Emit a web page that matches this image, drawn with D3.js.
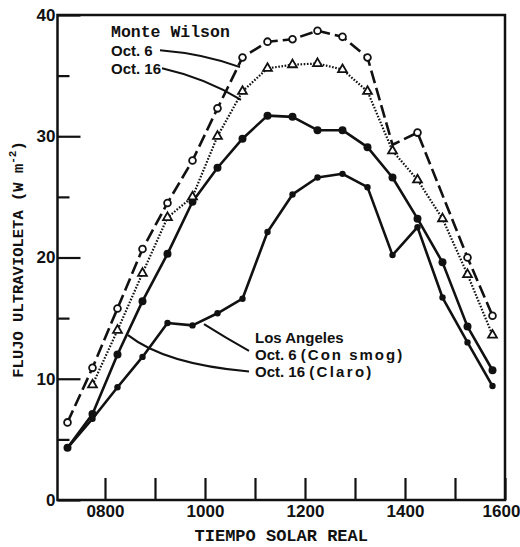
<!DOCTYPE html>
<html><head><meta charset="utf-8">
<script src="https://cdn.jsdelivr.net/npm/d3@7"></script>
<style>body{margin:0;background:#fff}</style>
</head><body><svg id="c" width="520" height="547"></svg>
<script>
// ---- data ----
const times = [7.25,7.75,8.25,8.75,9.25,9.75,10.25,10.75,11.25,11.75,12.25,12.75,13.25,13.75,14.25,14.75,15.25,15.75];
const mwOct6  = [6.4,10.9,15.8,20.7,24.5,28.0,32.3,36.5,37.8,38.0,38.7,38.2,36.5,29.3,30.3,null,20.0,15.2];
const mwOct6Unmarked = [13.75];
const mwOct16 = [null,9.5,14.0,18.7,23.3,25.0,30.0,33.7,35.6,35.9,36.0,35.5,33.7,28.8,26.4,23.2,18.6,13.6];
const laOct16 = [4.3,7.1,12.0,16.4,20.3,24.6,27.4,29.8,31.7,31.6,30.5,30.5,29.1,26.6,23.2,19.6,14.3,10.7];
const laOct6  = [4.3,6.7,9.3,11.8,14.6,14.4,15.4,16.6,22.1,25.2,26.6,26.9,25.8,20.2,22.5,16.7,13.0,9.4];
const xTickValues = [8,9,10,11,12,13,14,15,16];
const xTickLabels = ["0800","","1000","","1200","","1400","","1600"];
const yMajorTicks = [0,10,20,30,40];
const yMinorTicks = [5,15,25,35];
const xTitle = "TIEMPO SOLAR REAL";
const yTitle = "FLUJO ULTRAVIOLETA (W m";

const svg = d3.select("#c");
const x = d3.scaleLinear().domain([7.05,16]).range([57.5,505]);
const y = d3.scaleLinear().domain([0,40]).range([500,15]);
const ink = "#111";
const sans = "'Liberation Sans', Arial, sans-serif";
const mono = "'Liberation Mono', 'Courier New', monospace";

// frame
svg.append("rect").attr("x",x.range()[0]).attr("y",y(40)).attr("width",x.range()[1]-x.range()[0]).attr("height",y(0)-y(40))
  .attr("fill","none").attr("stroke",ink).attr("stroke-width",2.5);

// x axis
const gx = svg.append("g").attr("transform",`translate(0,${y(0)})`)
  .call(d3.axisBottom(x).tickValues(xTickValues).tickSize(-22).tickPadding(5)
    .tickFormat((d,i)=>xTickLabels[i]));
gx.select(".domain").remove();
gx.selectAll("line").attr("stroke",ink).attr("stroke-width",2.2);
gx.selectAll("text").attr("font-family",sans).attr("font-weight","bold").attr("font-size",17).attr("fill",ink)
  .attr("dx",d=>d===16?-4:0);

// y axis majors
const gy = svg.append("g").attr("transform",`translate(${x.range()[0]},0)`)
  .call(d3.axisLeft(y).tickValues(yMajorTicks).tickSize(-23).tickPadding(2).tickFormat(d3.format("d")));
gy.select(".domain").remove();
gy.selectAll("line").attr("stroke",ink).attr("stroke-width",2.2);
gy.selectAll("text").attr("font-family",sans).attr("font-weight","bold").attr("font-size",17).attr("fill",ink);
const gy2 = svg.append("g").attr("transform",`translate(${x.range()[0]},0)`)
  .call(d3.axisLeft(y).tickValues(yMinorTicks).tickSize(-12).tickFormat(""));
gy2.select(".domain").remove();
gy2.selectAll("line").attr("stroke",ink).attr("stroke-width",2.2);

// titles
svg.append("text").attr("x",(x.range()[0]+x.range()[1])/2).attr("y",541).attr("text-anchor","middle")
  .attr("font-family",mono).attr("font-weight","bold").attr("font-size",17).attr("fill",ink).text(xTitle);
const yt = svg.append("text").attr("transform",`translate(23,${(y(0)+y(40))/2+2}) rotate(-90)`).attr("text-anchor","middle")
  .attr("font-family",mono).attr("font-weight","bold").attr("font-size",15.5).attr("fill",ink);
yt.append("tspan").text(yTitle);
yt.append("tspan").attr("font-size",11).attr("dy",-7).text("-2");
yt.append("tspan").attr("dy",7).text(")");

// series
function pts(vals){ return times.map((t,i)=>[t,vals[i]]).filter(d=>d[1]!=null); }
const line = d3.line().x(d=>x(d[0])).y(d=>y(d[1]));
const series = [
  {vals:laOct6, dash:null, w:2.6, mark:"fill", r:3.2},
  {vals:laOct16, dash:null, w:2.6, mark:"fill", r:4},
  {vals:mwOct16, dash:"1.6,1.6", w:2.2, mark:"tri"},
  {vals:mwOct6, dash:"13,5", w:2.6, mark:"open", skip:mwOct6Unmarked}
];
series.forEach(s=>{
  const p = pts(s.vals);
  svg.append("path").attr("d",line(p)).attr("fill","none").attr("stroke",ink)
    .attr("stroke-width",s.w).attr("stroke-dasharray",s.dash).attr("stroke-linejoin","round");
  const mp = p.filter(d=>!(s.skip||[]).includes(d[0]));
  if(s.mark==="fill"){
    svg.selectAll(null).data(mp).enter().append("circle").attr("cx",d=>x(d[0])).attr("cy",d=>y(d[1])).attr("r",s.r).attr("fill",ink);
  } else if(s.mark==="open"){
    svg.selectAll(null).data(mp).enter().append("circle").attr("cx",d=>x(d[0])).attr("cy",d=>y(d[1])).attr("r",3.4)
      .attr("fill","#fff").attr("stroke",ink).attr("stroke-width",1.8);
  } else {
    svg.selectAll(null).data(mp).enter().append("path").attr("d",d3.symbol(d3.symbolTriangle,34)())
      .attr("transform",d=>`translate(${x(d[0])},${y(d[1])})`).attr("fill","#fff").attr("stroke",ink).attr("stroke-width",1.8);
  }
});

// annotations (in data units)
function lab(t,v,str,fam,w,sz,ls){
  return svg.append("text").attr("x",x(t)).attr("y",y(v)).attr("font-family",fam).attr("font-weight",w)
    .attr("font-size",sz).attr("letter-spacing",ls||0).attr("fill",ink).text(str);
}
lab(8.12,38.2,"Monte Wilson",mono,"bold",16.5);
lab(8.12,36.65,"Oct. 6",sans,"bold",15);
lab(8.12,35.15,"Oct. 16",sans,"bold",15);
lab(11.0,12.95,"Los Angeles",sans,"bold",15);
const t6 = lab(11.0,11.55,"Oct. 6 ",sans,"bold",15);
t6.append("tspan").attr("letter-spacing",2).text("(Con smog)");
const t16 = lab(11.0,10.15,"Oct. 16 ",sans,"bold",15);
t16.append("tspan").attr("letter-spacing",2.3).text("(Claro)");

function leader(a,c,b){
  const p = d3.path();
  p.moveTo(x(a[0]),y(a[1])); p.quadraticCurveTo(x(c[0]),y(c[1]),x(b[0]),y(b[1]));
  svg.append("path").attr("d",p.toString()).attr("fill","none").attr("stroke",ink).attr("stroke-width",2);
}
leader([9.1,37.1],[10.0,36.8],[10.7,35.7]);
leader([9.14,35.6],[10.0,34.8],[10.72,33.0]);
leader([9.98,14.5],[10.4,13.4],[10.88,12.3]);
leader([8.46,13.6],[9.2,11.2],[10.88,10.6]);
</script></body></html>
